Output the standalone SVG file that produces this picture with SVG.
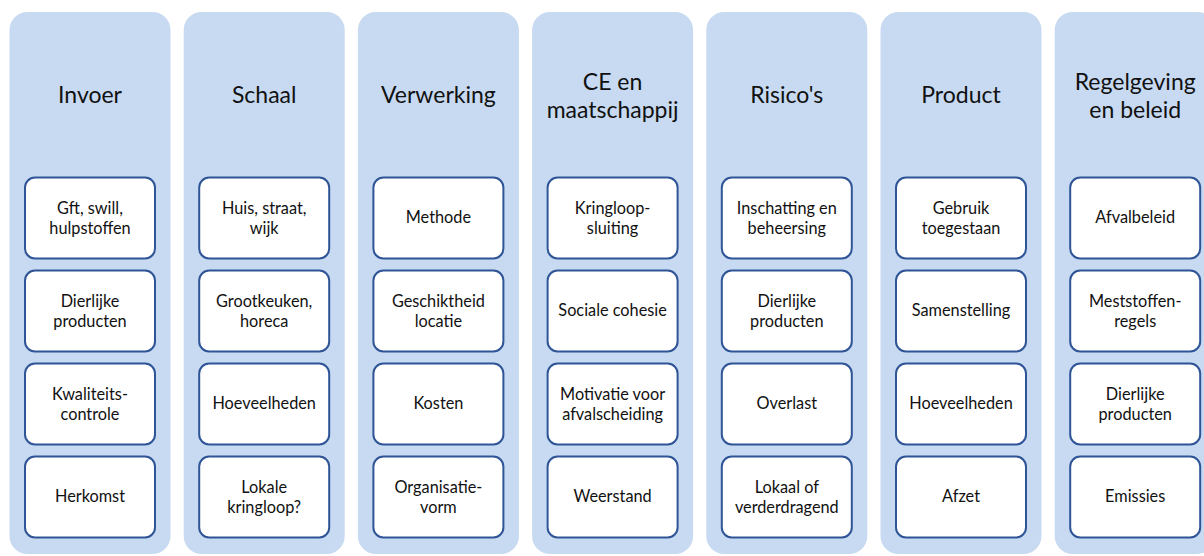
<svg xmlns="http://www.w3.org/2000/svg" width="1204" height="556" viewBox="0 0 1204 556">
<style>
.col{fill:#C7DAF1}
.box{fill:#FFFFFF;stroke:#2F5597;stroke-width:2}
.h{font-family:Lato,"Liberation Sans",sans-serif;font-size:23px;fill:#111;text-anchor:middle}
.t{font-family:Lato,"Liberation Sans",sans-serif;font-size:16.3px;fill:#111;text-anchor:middle}
</style>
<rect width="1204" height="556" fill="#FFFFFF"/>
<g id="col-invoer" transform="translate(9.5,0)">
<rect class="col" x="0" y="12" width="161" height="542" rx="18"/>
<text class="h" x="80.5" y="103">Invoer</text>
<g id="invoer-1"><rect class="box" x="15.5" y="177.5" width="130" height="81" rx="10"/><text class="t" x="80.5" y="213.5">Gft, swill,</text><text class="t" x="80.5" y="233.5">hulpstoffen</text></g>
<g id="invoer-2"><rect class="box" x="15.5" y="270.5" width="130" height="81" rx="10"/><text class="t" x="80.5" y="306.5">Dierlijke</text><text class="t" x="80.5" y="326.5">producten</text></g>
<g id="invoer-3"><rect class="box" x="15.5" y="363.5" width="130" height="81" rx="10"/><text class="t" x="80.5" y="399.5">Kwaliteits-</text><text class="t" x="80.5" y="419.5">controle</text></g>
<g id="invoer-4"><rect class="box" x="15.5" y="456.5" width="130" height="81" rx="10"/><text class="t" x="80.5" y="502">Herkomst</text></g>
</g>
<g id="col-schaal" transform="translate(183.7,0)">
<rect class="col" x="0" y="12" width="161" height="542" rx="18"/>
<text class="h" x="80.5" y="103">Schaal</text>
<g id="schaal-1"><rect class="box" x="15.5" y="177.5" width="130" height="81" rx="10"/><text class="t" x="80.5" y="213.5">Huis, straat,</text><text class="t" x="80.5" y="233.5">wijk</text></g>
<g id="schaal-2"><rect class="box" x="15.5" y="270.5" width="130" height="81" rx="10"/><text class="t" x="80.5" y="306.5">Grootkeuken,</text><text class="t" x="80.5" y="326.5">horeca</text></g>
<g id="schaal-3"><rect class="box" x="15.5" y="363.5" width="130" height="81" rx="10"/><text class="t" x="80.5" y="409">Hoeveelheden</text></g>
<g id="schaal-4"><rect class="box" x="15.5" y="456.5" width="130" height="81" rx="10"/><text class="t" x="80.5" y="492.5">Lokale</text><text class="t" x="80.5" y="512.5">kringloop?</text></g>
</g>
<g id="col-verwerking" transform="translate(357.9,0)">
<rect class="col" x="0" y="12" width="161" height="542" rx="18"/>
<text class="h" x="80.5" y="103">Verwerking</text>
<g id="verwerking-1"><rect class="box" x="15.5" y="177.5" width="130" height="81" rx="10"/><text class="t" x="80.5" y="223">Methode</text></g>
<g id="verwerking-2"><rect class="box" x="15.5" y="270.5" width="130" height="81" rx="10"/><text class="t" x="80.5" y="306.5">Geschiktheid</text><text class="t" x="80.5" y="326.5">locatie</text></g>
<g id="verwerking-3"><rect class="box" x="15.5" y="363.5" width="130" height="81" rx="10"/><text class="t" x="80.5" y="409">Kosten</text></g>
<g id="verwerking-4"><rect class="box" x="15.5" y="456.5" width="130" height="81" rx="10"/><text class="t" x="80.5" y="492.5">Organisatie-</text><text class="t" x="80.5" y="512.5">vorm</text></g>
</g>
<g id="col-ce" transform="translate(532.1,0)">
<rect class="col" x="0" y="12" width="161" height="542" rx="18"/>
<text class="h" x="80.5" y="90">CE en</text>
<text class="h" x="80.5" y="118">maatschappij</text>
<g id="ce-1"><rect class="box" x="15.5" y="177.5" width="130" height="81" rx="10"/><text class="t" x="80.5" y="213.5">Kringloop-</text><text class="t" x="80.5" y="233.5">sluiting</text></g>
<g id="ce-2"><rect class="box" x="15.5" y="270.5" width="130" height="81" rx="10"/><text class="t" x="80.5" y="316">Sociale cohesie</text></g>
<g id="ce-3"><rect class="box" x="15.5" y="363.5" width="130" height="81" rx="10"/><text class="t" x="80.5" y="399.5">Motivatie voor</text><text class="t" x="80.5" y="419.5">afvalscheiding</text></g>
<g id="ce-4"><rect class="box" x="15.5" y="456.5" width="130" height="81" rx="10"/><text class="t" x="80.5" y="502">Weerstand</text></g>
</g>
<g id="col-risicos" transform="translate(706.3,0)">
<rect class="col" x="0" y="12" width="161" height="542" rx="18"/>
<text class="h" x="80.5" y="103">Risico's</text>
<g id="risicos-1"><rect class="box" x="15.5" y="177.5" width="130" height="81" rx="10"/><text class="t" x="80.5" y="213.5">Inschatting en</text><text class="t" x="80.5" y="233.5">beheersing</text></g>
<g id="risicos-2"><rect class="box" x="15.5" y="270.5" width="130" height="81" rx="10"/><text class="t" x="80.5" y="306.5">Dierlijke</text><text class="t" x="80.5" y="326.5">producten</text></g>
<g id="risicos-3"><rect class="box" x="15.5" y="363.5" width="130" height="81" rx="10"/><text class="t" x="80.5" y="409">Overlast</text></g>
<g id="risicos-4"><rect class="box" x="15.5" y="456.5" width="130" height="81" rx="10"/><text class="t" x="80.5" y="492.5">Lokaal of</text><text class="t" x="80.5" y="512.5">verderdragend</text></g>
</g>
<g id="col-product" transform="translate(880.5,0)">
<rect class="col" x="0" y="12" width="161" height="542" rx="18"/>
<text class="h" x="80.5" y="103">Product</text>
<g id="product-1"><rect class="box" x="15.5" y="177.5" width="130" height="81" rx="10"/><text class="t" x="80.5" y="213.5">Gebruik</text><text class="t" x="80.5" y="233.5">toegestaan</text></g>
<g id="product-2"><rect class="box" x="15.5" y="270.5" width="130" height="81" rx="10"/><text class="t" x="80.5" y="316">Samenstelling</text></g>
<g id="product-3"><rect class="box" x="15.5" y="363.5" width="130" height="81" rx="10"/><text class="t" x="80.5" y="409">Hoeveelheden</text></g>
<g id="product-4"><rect class="box" x="15.5" y="456.5" width="130" height="81" rx="10"/><text class="t" x="80.5" y="502">Afzet</text></g>
</g>
<g id="col-regelgeving" transform="translate(1054.7,0)">
<rect class="col" x="0" y="12" width="161" height="542" rx="18"/>
<text class="h" x="80.5" y="90">Regelgeving</text>
<text class="h" x="80.5" y="118">en beleid</text>
<g id="regelgeving-1"><rect class="box" x="15.5" y="177.5" width="130" height="81" rx="10"/><text class="t" x="80.5" y="223">Afvalbeleid</text></g>
<g id="regelgeving-2"><rect class="box" x="15.5" y="270.5" width="130" height="81" rx="10"/><text class="t" x="80.5" y="306.5">Meststoffen-</text><text class="t" x="80.5" y="326.5">regels</text></g>
<g id="regelgeving-3"><rect class="box" x="15.5" y="363.5" width="130" height="81" rx="10"/><text class="t" x="80.5" y="399.5">Dierlijke</text><text class="t" x="80.5" y="419.5">producten</text></g>
<g id="regelgeving-4"><rect class="box" x="15.5" y="456.5" width="130" height="81" rx="10"/><text class="t" x="80.5" y="502">Emissies</text></g>
</g>
</svg>
